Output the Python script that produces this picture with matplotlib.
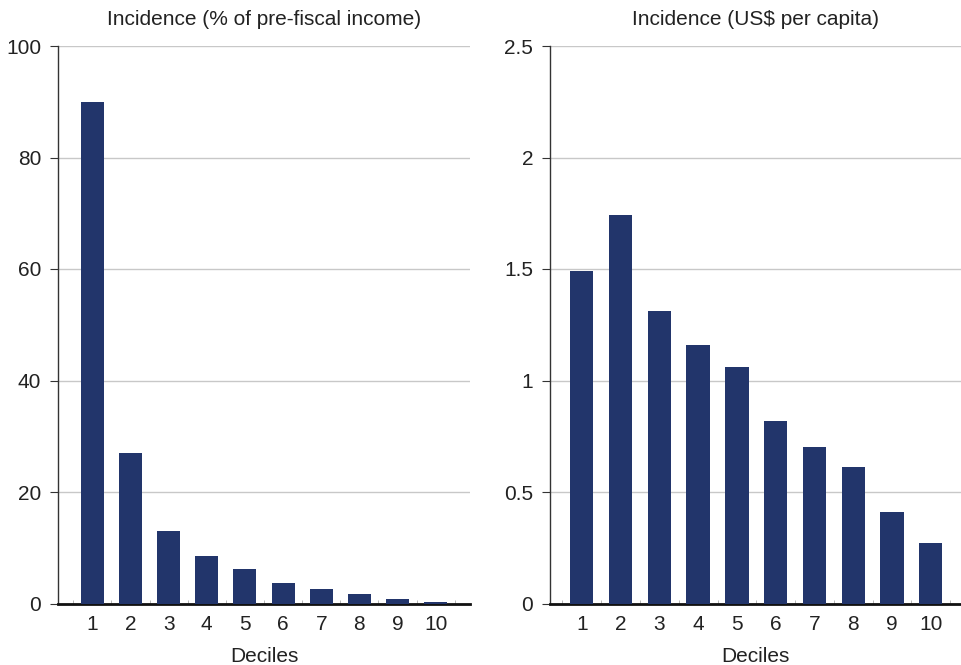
import numpy as np
from matplotlib import pyplot as plt

deciles = [1, 2, 3, 4, 5, 6, 7, 8, 9, 10]
pct_income = [90.0, 27.0, 13.0, 8.5, 6.2, 3.7, 2.6, 1.7, 0.8, 0.3]
usd_per_capita = [1.49, 1.74, 1.31, 1.16, 1.06, 0.82, 0.70, 0.61, 0.41, 0.27]

titles = ["Incidence (% of pre-fiscal income)", "Incidence (US$ per capita)"]
yticks_left = [0, 20, 40, 60, 80, 100]
yticks_right = [0, 0.5, 1, 1.5, 2, 2.5]
ylabels_right = ["0", "0.5", "1", "1.5", "2", "2.5"]

plt.rcParams['font.family'] = ['Liberation Sans', 'DejaVu Sans']
bar_color = '#22356b'
fs = 15

fig = plt.figure(figsize=(9.61, 6.65), dpi=100)
ax1 = fig.add_axes([58 / 961, 61.5 / 665, 412 / 961, 557.5 / 665])
ax2 = fig.add_axes([550 / 961, 61.5 / 665, 411 / 961, 557.5 / 665])


def style_axis(ax, yticks, ylabels, xlim):
    ax.set_xlim(*xlim)
    ax.set_ylim(yticks[0], yticks[-1])
    ax.set_yticks(yticks)
    ax.set_yticklabels(ylabels, fontsize=fs, color='#222222')
    ax.set_xticks(deciles)
    ax.set_xticklabels([str(d) for d in deciles], fontsize=fs, color='#222222')
    ax.tick_params(axis='x', length=0, pad=8)
    ax.tick_params(axis='y', length=6, width=0.8, pad=6, color='#333333')
    # faint separators between categories on the baseline
    ax.set_xticks(np.arange(0.5, 11.0, 1.0), minor=True)
    ax.tick_params(axis='x', which='minor', length=3, color='#aaaaaa', direction='in')
    ax.grid(axis='y', color='#c8c8c8', linewidth=1)
    ax.set_axisbelow(True)
    for side in ['top', 'right']:
        ax.spines[side].set_visible(False)
    ax.spines['left'].set_color('#333333')
    ax.spines['left'].set_linewidth(1.0)
    ax.spines['bottom'].set_color('#111111')
    ax.spines['bottom'].set_linewidth(2.0)
    ax.set_xlabel('Deciles', fontsize=fs, color='#222222', labelpad=10)


ax1.bar(deciles, pct_income, width=0.6, color=bar_color, zorder=3)
style_axis(ax1, yticks_left, [str(t) for t in yticks_left], (0.1, 10.9))
ax1.set_title(titles[0], fontsize=fs, color='#222222', pad=15)

ax2.bar(deciles, usd_per_capita, width=0.6, color=bar_color, zorder=3)
style_axis(ax2, yticks_right, ylabels_right, (0.18, 10.78))
ax2.set_title(titles[1], fontsize=fs, color='#222222', pad=15)

plt.savefig("out.png", dpi=100)
